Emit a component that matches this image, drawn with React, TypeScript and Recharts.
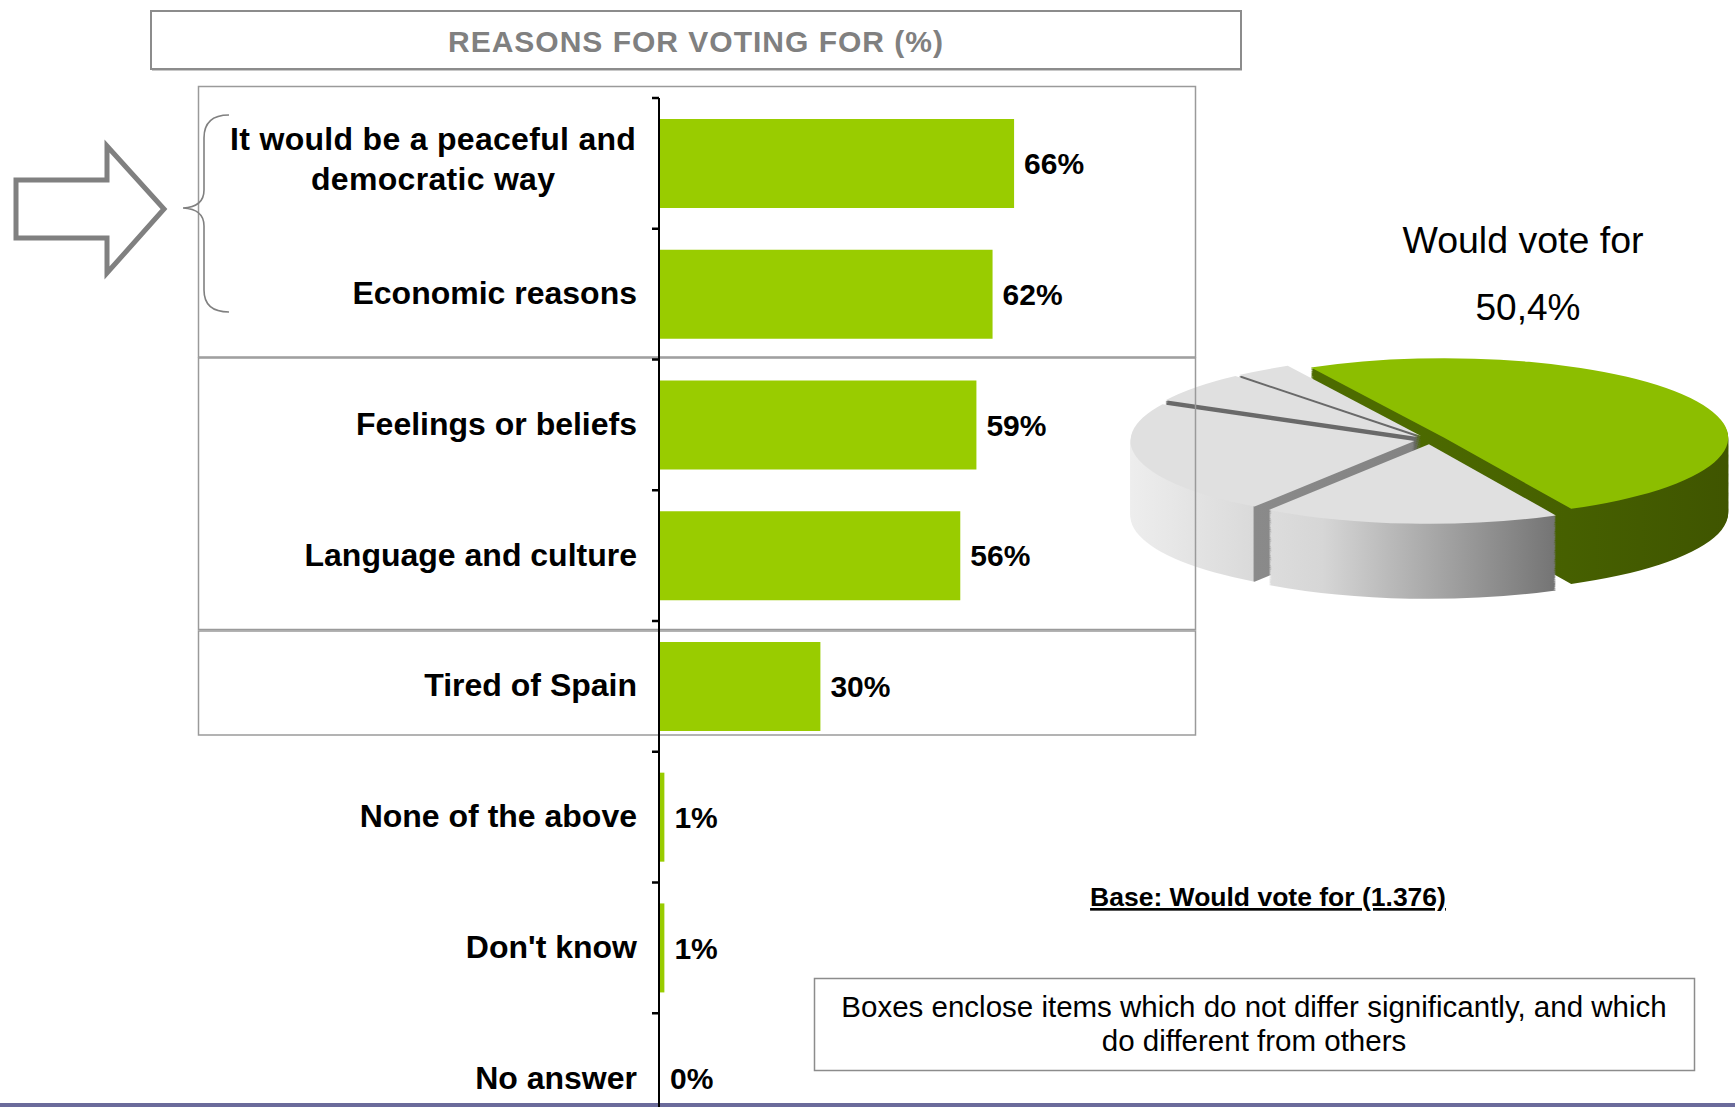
import React from 'react';
import { BarChart, Bar, XAxis, YAxis, LabelList, PieChart, Pie, Cell } from 'recharts';

const FONT = '"Liberation Sans", Arial, Helvetica, sans-serif';

// ---------- data ----------
const categories = [
  'It would be a peaceful and democratic way',
  'Economic reasons',
  'Feelings or beliefs',
  'Language and culture',
  'Tired of Spain',
  'None of the above',
  "Don't know",
  'No answer',
];
const reasonValues = [66, 62, 59, 56, 30, 1, 1, 0];

const pieNames = ['Would vote for', 'Would vote against', 'Would not vote', "Don't know", 'No answer'];
const pieValues = [50.4, 16.9, 23.1, 6.3, 3.3];

const titleText = 'REASONS FOR VOTING FOR (%)';
const pieTitle = ['Would vote for', '50,4%'];
const baseText = 'Base: Would vote for (1.376)';
const noteLines = ['Boxes enclose items which do not differ significantly, and which', 'do different from others'];

const barData = categories.map((name, i) => ({ name, value: reasonValues[i] }));
const pieData = pieNames.map((name, i) => ({ name, value: pieValues[i] }));

// ---------- layout ----------
const BAR_W = 1250;
const BAR_H = 1200;
const MARGIN = { top: 98, right: 53, bottom: 56, left: 0 };
const AXIS_W = 659;
const TICK = 7;
const BAND = (BAR_H - MARGIN.top - MARGIN.bottom) / categories.length;
const LABEL_FS = 32;

function wrapLabel(s: string, max: number): string[] {
  const words = s.split(' ');
  const lines: string[] = [];
  let cur = '';
  for (const w of words) {
    const t = cur ? cur + ' ' + w : w;
    if (t.length > max && cur) {
      lines.push(cur);
      cur = w;
    } else cur = t;
  }
  if (cur) lines.push(cur);
  return lines;
}

const CategoryTick = (props: any) => {
  const { x, y, payload } = props;
  const axisX = x + TICK;
  const endX = axisX - 22;
  const lines = wrapLabel(String(payload.value), 26);
  const common = { fontFamily: FONT, fontSize: LABEL_FS, fontWeight: 700, fill: '#000' } as any;
  let texts;
  if (lines.length === 1) {
    texts = (
      <text x={endX} y={y + 10} textAnchor="end" {...common}>
        {lines[0]}
      </text>
    );
  } else {
    const maxLen = Math.max(...lines.map((l) => l.length));
    const cx = endX - maxLen * LABEL_FS * 0.245;
    texts = lines.map((l, i) => (
      <text key={i} x={cx} y={y - 13.5 + i * 40} textAnchor="middle" letterSpacing={0.3} {...common}>
        {l}
      </text>
    ));
  }
  return (
    <g>
      {texts}
      <line x1={axisX - TICK} x2={axisX} y1={y - BAND / 2} y2={y - BAND / 2} stroke="#000" strokeWidth={2.5} />
    </g>
  );
};

// ---------- pie (pseudo-3D) ----------
const PIE_L = 1120;
const PIE_T = 353;
const PIE_SCALE = 0.28;
const PIE_W = 640;
const PIE_H = 900;
const PIE_CX = 310;
const PIE_CY = 310;
const PIE_R = 284;
const DEPTH = 268;
const STEP = 4;
const EXPLODE = 16;
const START = 118;
const GRAD_W = 450;

const topColors = ['#8CBE00', '#E0E0E0', '#E0E0E0', '#E0E0E0', '#E0E0E0'];
const sideColors = ['url(#greenSide)', 'url(#graySide)', 'url(#leftSide)', '#6A6A6A', '#6A6A6A'];

const pieTotal = pieValues.reduce((a, b) => a + b, 0);
const sliceGeom = (() => {
  let acc = 0;
  return pieValues.map((v) => {
    const s = START - (acc / pieTotal) * 360;
    const mid = START - ((acc + v / 2) / pieTotal) * 360;
    acc += v;
    const r = (mid * Math.PI) / 180;
    return { start: s, dx: EXPLODE * Math.cos(r), dy: -EXPLODE * Math.sin(r) };
  });
})();
// x where the left slice's outer rim meets its visible radial face
const cornerX = PIE_CX + sliceGeom[2].dx + PIE_R * Math.cos((sliceGeom[2].start * Math.PI) / 180);
const cornerOff = Math.min(0.99, Math.max(0.01, cornerX / GRAD_W));

const layers: number[] = [];
for (let d = DEPTH; d > 0; d -= STEP) layers.push(d);

const sliceLayer = (key: string, i: number, d: number, color: string) => (
  <Pie
    key={key}
    data={pieData}
    dataKey="value"
    nameKey="name"
    cx={PIE_CX + sliceGeom[i].dx}
    cy={PIE_CY + sliceGeom[i].dy + d}
    innerRadius={0}
    outerRadius={PIE_R}
    startAngle={START}
    endAngle={START - 360}
    stroke="none"
    isAnimationActive={false}
  >
    {pieData.map((_, j) => (
      <Cell key={j} fill={j === i ? color : 'none'} stroke="none" />
    ))}
  </Pie>
);

const Pie3D = () => (
  <div
    style={{
      position: 'absolute',
      left: PIE_L,
      top: PIE_T,
      width: PIE_W,
      height: PIE_H,
      transform: `scaleY(${PIE_SCALE})`,
      transformOrigin: '0 0',
    }}
  >
    <PieChart width={PIE_W} height={PIE_H} margin={{ top: 0, right: 0, bottom: 0, left: 0 }}>
      <defs>
        <linearGradient id="graySide" gradientUnits="userSpaceOnUse" x1={0} y1={0} x2={GRAD_W} y2={0}>
          <stop offset="0" stopColor="#EFEFEF" />
          <stop offset="0.45" stopColor="#D6D6D6" />
          <stop offset="1" stopColor="#6E6E6E" />
        </linearGradient>
        <linearGradient id="leftSide" gradientUnits="userSpaceOnUse" x1={0} y1={0} x2={GRAD_W} y2={0}>
          <stop offset="0" stopColor="#EFEFEF" />
          <stop offset={cornerOff - 0.004} stopColor="#DADADA" />
          <stop offset={cornerOff} stopColor="#8A8A8A" />
          <stop offset="1" stopColor="#7C7C7C" />
        </linearGradient>
        <linearGradient id="greenSide" gradientUnits="userSpaceOnUse" x1={280} y1={0} x2={640} y2={0}>
          <stop offset="0" stopColor="#4D6B00" />
          <stop offset="1" stopColor="#3E5300" />
        </linearGradient>
      </defs>
      {layers.map((d) => pieData.map((_, i) => sliceLayer(`s-${d}-${i}`, i, d, sideColors[i])))}
      {pieData.map((_, i) => sliceLayer(`t-${i}`, i, 0, topColors[i]))}
    </PieChart>
  </div>
);

// ---------- annotations ----------
const Overlay = () => (
  <svg width={1735} height={1107} style={{ position: 'absolute', left: 0, top: 0 }}>
    <rect x={151} y={11} width={1090} height={58} fill="none" stroke="#8C8C8C" strokeWidth={2} />
    <line x1={152} y1={70.5} x2={1242} y2={70.5} stroke="#C8C8C8" strokeWidth={1} />
    <text x={696} y={52} textAnchor="middle" fontFamily={FONT} fontSize={30} fontWeight={700} fill="#808080" letterSpacing={1}>
      {titleText}
    </text>
    <rect x={198.5} y={86.5} width={997} height={270.5} fill="none" stroke="#9A9A9A" strokeWidth={1.5} />
    <rect x={198.5} y={358} width={997} height={271.5} fill="none" stroke="#9A9A9A" strokeWidth={1.5} />
    <rect x={198.5} y={631} width={997} height={104} fill="none" stroke="#9A9A9A" strokeWidth={1.5} />
    <polygon
      points="16,180 107,180 107,146 164,209 107,273 107,238 16,238"
      fill="#fff"
      stroke="#808080"
      strokeWidth={5}
      strokeLinejoin="miter"
    />
    <path
      d="M229,115 Q204,115 204,138 L204,190 Q204,207 183,208 Q204,209 204,226 L204,290 Q204,312 229,312"
      fill="none"
      stroke="#808080"
      strokeWidth={1.6}
    />
    <text x={1523} y={253} textAnchor="middle" fontFamily={FONT} fontSize={37.5} fill="#000">
      {pieTitle[0]}
    </text>
    <text x={1528} y={320} textAnchor="middle" fontFamily={FONT} fontSize={37} fill="#000">
      {pieTitle[1]}
    </text>
    <text x={1268} y={906} textAnchor="middle" fontFamily={FONT} fontSize={26.5} fontWeight={700} fill="#000" textDecoration="underline">
      {baseText}
    </text>
    <rect x={814.5} y={978.5} width={880} height={92} fill="#fff" stroke="#8C8C8C" strokeWidth={1.5} />
    {noteLines.map((l, i) => (
      <text key={i} x={1254} y={1017 + i * 34} textAnchor="middle" fontFamily={FONT} fontSize={29.5} fill="#000">
        {l}
      </text>
    ))}
    <rect x={0} y={1103} width={1735} height={4} fill="#6B6B9B" />
  </svg>
);

export default function App() {
  return (
    <div
      style={{
        position: 'fixed',
        left: 0,
        top: 0,
        width: 1735,
        height: 1107,
        overflow: 'hidden',
        background: '#fff',
        fontFamily: FONT,
      }}
    >
      <Pie3D />
      <Overlay />
      <div style={{ position: 'absolute', left: 0, top: 0 }}>
        <BarChart
          width={BAR_W}
          height={BAR_H}
          data={barData}
          layout="vertical"
          margin={MARGIN}
          barCategoryGap="16%"
        >
          <XAxis type="number" domain={[0, 100]} hide />
          <YAxis
            type="category"
            dataKey="name"
            width={AXIS_W}
            interval={0}
            tickLine={false}
            tickSize={TICK}
            tickMargin={0}
            axisLine={{ stroke: '#000', strokeWidth: 2 }}
            tick={(p: any) => <CategoryTick {...p} />}
          />
          <Bar dataKey="value" fill="#99CC00" minPointSize={1} isAnimationActive={false}>
            <LabelList
              dataKey="value"
              position="right"
              offset={10}
              formatter={(v: any) => `${v}%`}
              fill="#000"
              fontSize={30}
              fontWeight={700}
              fontFamily={FONT}
            />
          </Bar>
        </BarChart>
      </div>
    </div>
  );
}
